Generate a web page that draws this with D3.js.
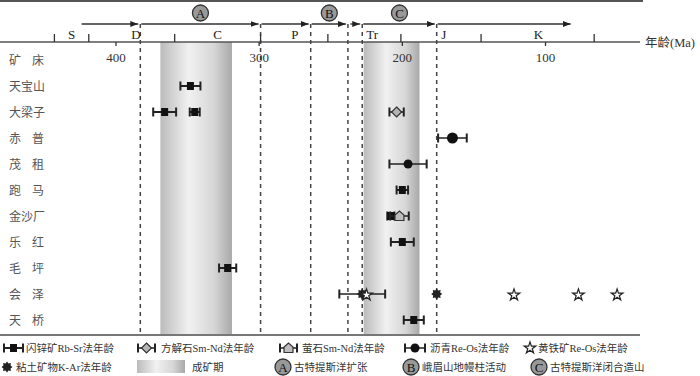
<!DOCTYPE html>
<html>
<head>
    <meta charset="utf-8">
    <title>Age chart</title>
    <script src="https://cdn.jsdelivr.net/npm/d3@7/dist/d3.min.js"></script>
    <style>
        body { margin: 0; background: #fff; }
        text { font-family: "Liberation Serif", "Noto Sans CJK SC", serif; }
    </style>
</head>
<body>
    <svg width="700" height="376" id="mainsvg"></svg>
    <script>
        // ---- data ----
        const deposits = ['天宝山', '大梁子', '赤普', '茂租', '跑马', '金沙厂', '乐红', '毛坪', '会泽', '天桥'];

        // sphalerite Rb-Sr
        const rbSrDeposit = ['天宝山', '大梁子', '大梁子', '跑马', '金沙厂', '乐红', '毛坪', '天桥'];
        const rbSrAge = [348, 366, 345, 200, 208, 200, 322, 192];
        const rbSrErr = [7, 8, 3.5, 4, 2.5, 8, 6, 7];
        // calcite Sm-Nd
        const calciteDeposit = ['大梁子'];
        const calciteAge = [204];
        const calciteErr = [5];
        // fluorite Sm-Nd
        const fluoriteDeposit = ['金沙厂'];
        const fluoriteAge = [202];
        const fluoriteErr = [6.5];
        // bitumen Re-Os
        const bitumenDeposit = ['赤普', '茂租'];
        const bitumenAge = [165, 196];
        const bitumenErr = [10, 13];
        // clay minerals K-Ar
        const clayDeposit = ['会泽', '会泽'];
        const clayAge = [228, 176];
        const clayErr = [16, 0];
        // pyrite Re-Os
        const pyriteDeposit = ['会泽', '会泽', '会泽', '会泽'];
        const pyriteAge = [225, 122, 77, 50];

        // geologic time
        const periodNames = ['S', 'D', 'C', 'P', 'Tr', 'J', 'K'];
        const periodLabelAge = [431, 386, 329, 275, 221, 171, 105];
        const periodBounds = [443, 419, 359, 299, 252, 201, 145, 66];
        const ageTicks = [400, 300, 200, 100];

        // ore-forming periods
        const bandStart = [369, 227];
        const bandEnd = [319, 188];

        // tectonic events
        const eventNames = ['A', 'B', 'C'];
        const eventAge = [341, 251, 202];
        const arrowStart = [424, 383, 299, 264, 237, 228, 176];
        const arrowEnd = [383, 299, 264, 238, 228, 176, 81];
        const dashAges = [383, 299, 264, 238, 228, 176];

        // ---- chart ----
        const svg = d3.select('#mainsvg');
        const x = d3.scaleLinear().domain([481, 34]).range([0, 640]);
        const y = d3.scalePoint().domain(deposits).range([86, 320]);
        const axisY = 42, bottomY = 335, arrowY = 24;

        const defs = svg.append('defs');
        const grad = defs.append('linearGradient').attr('id', 'band');
        [[0, '#bbbbbb'], [0.4, '#f1f1f1'], [0.75, '#d6d6d6'], [1, '#a8a8a8']]
            .forEach(s => grad.append('stop').attr('offset', s[0]).attr('stop-color', s[1]));
        defs.append('marker')
            .attr('id', 'arrow').attr('viewBox', '0 0 8 6')
            .attr('refX', 8).attr('refY', 3)
            .attr('markerWidth', 8).attr('markerHeight', 6)
            .attr('markerUnits', 'userSpaceOnUse').attr('orient', 'auto')
            .append('path').attr('d', 'M0,0L8,3L0,6Z').attr('fill', '#222');

        // mineralization bands
        svg.selectAll('.band')
            .data(bandStart.map((s, i) => [s, bandEnd[i]]))
            .join('rect')
            .attr('class', 'band')
            .attr('x', d => x(d[0]))
            .attr('width', d => x(d[1]) - x(d[0]))
            .attr('y', axisY)
            .attr('height', bottomY - axisY)
            .attr('fill', 'url(#band)');

        // frame lines
        svg.append('line').attr('x1', 0).attr('x2', 643).attr('y1', 1).attr('y2', 1)
            .attr('stroke', '#555').attr('stroke-width', 2);
        svg.append('line').attr('x1', 0).attr('x2', 640).attr('y1', axisY).attr('y2', axisY)
            .attr('stroke', '#555').attr('stroke-width', 1.5);
        svg.append('line').attr('x1', 0).attr('x2', 640).attr('y1', bottomY).attr('y2', bottomY)
            .attr('stroke', '#777').attr('stroke-width', 2);

        // dashed boundaries
        svg.selectAll('.dash')
            .data(dashAges)
            .join('line')
            .attr('class', 'dash')
            .attr('x1', d => x(d)).attr('x2', d => x(d))
            .attr('y1', arrowY).attr('y2', bottomY)
            .attr('stroke', '#444').attr('stroke-width', 1.5)
            .attr('stroke-dasharray', '4,4');

        // event arrows
        svg.selectAll('.arrow')
            .data(arrowStart.map((s, i) => [s, arrowEnd[i]]))
            .join('line')
            .attr('class', 'arrow')
            .attr('x1', d => x(d[0]) + (d[0] === arrowStart[0] ? 0 : 1))
            .attr('x2', d => x(d[1]) - 2)
            .attr('y1', arrowY).attr('y2', arrowY)
            .attr('stroke', '#333').attr('stroke-width', 1.3)
            .attr('marker-end', 'url(#arrow)');

        const eventCircle = (g, cx, cy, label) => {
            g.append('circle').attr('cx', cx).attr('cy', cy).attr('r', 8)
                .attr('fill', '#999').attr('stroke', '#333').attr('stroke-width', 1.3);
            g.append('text').attr('x', cx).attr('y', cy + 4.5)
                .attr('text-anchor', 'middle').attr('font-size', 13).attr('fill', '#111')
                .text(label);
        };
        eventNames.forEach((n, i) => eventCircle(svg, x(eventAge[i]), 13, n));

        // geologic boundary ticks (above) and age ticks (below)
        svg.selectAll('.btick')
            .data(periodBounds)
            .join('line')
            .attr('class', 'btick')
            .attr('x1', d => x(d)).attr('x2', d => x(d))
            .attr('y1', axisY - 8).attr('y2', axisY)
            .attr('stroke', '#333').attr('stroke-width', 1.3);
        svg.selectAll('.atick')
            .data(ageTicks)
            .join('line')
            .attr('class', 'atick')
            .attr('x1', d => x(d)).attr('x2', d => x(d))
            .attr('y1', axisY).attr('y2', axisY + 4)
            .attr('stroke', '#333').attr('stroke-width', 1.3);
        svg.selectAll('.alabel')
            .data(ageTicks)
            .join('text')
            .attr('class', 'alabel')
            .attr('x', d => x(d)).attr('y', 62)
            .attr('text-anchor', 'middle').attr('font-size', 13).attr('fill', '#333')
            .text(d => d);
        svg.selectAll('.plabel')
            .data(periodNames)
            .join('text')
            .attr('class', 'plabel')
            .attr('x', (d, i) => x(periodLabelAge[i])).attr('y', 39)
            .attr('text-anchor', 'middle').attr('font-size', 13).attr('fill', '#222')
            .text(d => d);
        svg.append('text').attr('x', 645).attr('y', 47)
            .attr('font-size', 12.5).attr('fill', '#333').text('年龄(Ma)');

        // row labels
        const rowLabel = (txt, yy) => {
            const t = svg.append('text').attr('x', 9).attr('y', yy + 4.5)
                .attr('font-size', 12).attr('fill', '#555').text(txt);
            if (txt.length === 2) t.attr('textLength', 35).attr('lengthAdjust', 'spacing');
        };
        rowLabel('矿床', 60);
        deposits.forEach(d => rowLabel(d, y(d)));

        // markers
        const gearPath = (R) => {
            const pts = [];
            for (let k = 0; k < 16; k++) {
                const r = k % 2 ? R * 0.7 : R;
                const a = k * Math.PI / 8;
                pts.push([r * Math.sin(a), -r * Math.cos(a)]);
            }
            return 'M' + pts.join('L') + 'Z';
        };
        const drawMarker = (g, type, cx, cy) => {
            if (type === 'rbsr') {
                g.append('rect').attr('x', cx - 3.5).attr('y', cy - 4).attr('width', 7).attr('height', 8)
                    .attr('fill', '#111');
            } else if (type === 'calcite') {
                g.append('path').attr('d', 'M0,-5L5,0L0,5L-5,0Z').attr('transform', `translate(${cx},${cy})`)
                    .attr('fill', '#b5b5b5').attr('stroke', '#333').attr('stroke-width', 1.2);
            } else if (type === 'fluorite') {
                g.append('path').attr('d', 'M-4.5,4.5L4.5,4.5L4.5,-1L0,-5L-4.5,-1Z')
                    .attr('transform', `translate(${cx},${cy})`)
                    .attr('fill', '#bdbdbd').attr('stroke', '#333').attr('stroke-width', 1.2);
            } else if (type === 'bitumen') {
                g.append('circle').attr('cx', cx).attr('cy', cy).attr('r', 4.5).attr('fill', '#111');
            } else if (type === 'clay') {
                g.append('path').attr('d', gearPath(5.5)).attr('transform', `translate(${cx},${cy})`)
                    .attr('fill', '#222');
            } else if (type === 'pyrite') {
                g.append('path').attr('d', d3.symbol(d3.symbolStar, 42)())
                    .attr('transform', `translate(${cx},${cy + 1})`)
                    .attr('fill', '#fff').attr('stroke', '#222').attr('stroke-width', 1.2);
            }
        };
        const errBar = (g, x0, x1, cy, w) => {
            g.append('line').attr('x1', x0).attr('x2', x1).attr('y1', cy).attr('y2', cy)
                .attr('stroke', '#222').attr('stroke-width', w);
            [x0, x1].forEach(xx => g.append('line').attr('x1', xx).attr('x2', xx)
                .attr('y1', cy - 4.5).attr('y2', cy + 4.5)
                .attr('stroke', '#222').attr('stroke-width', 2));
        };
        const plotSeries = (type, deps, ages, errs, w) => {
            const g = svg.append('g');
            deps.forEach((d, i) => {
                if (errs && errs[i] > 0) errBar(g, x(ages[i] + errs[i]), x(ages[i] - errs[i]), y(d), w);
                drawMarker(g, type, x(ages[i]), y(d));
            });
        };
        plotSeries('rbsr', rbSrDeposit, rbSrAge, rbSrErr, 2);
        plotSeries('calcite', calciteDeposit, calciteAge, calciteErr, 1.5);
        plotSeries('fluorite', fluoriteDeposit, fluoriteAge, fluoriteErr, 1.5);
        plotSeries('bitumen', bitumenDeposit, bitumenAge, bitumenErr, 1.5);
        plotSeries('clay', clayDeposit, clayAge, clayErr, 1.5);
        plotSeries('pyrite', pyriteDeposit, pyriteAge, null, 1);
        // bigger bitumen point at 赤普
        svg.append('circle').attr('cx', x(bitumenAge[0])).attr('cy', y(bitumenDeposit[0]))
            .attr('r', 5.5).attr('fill', '#111');

        // legend
        const lg = svg.append('g');
        const ly1 = 348, ly2 = 367;
        const legendText = (tx, ty, s) => lg.append('text').attr('x', tx).attr('y', ty + 4)
            .attr('font-size', 10.5).attr('fill', '#333').text(s);
        const legendErr = (x0, x1, type, cy) => {
            errBar(lg, x0, x1, cy, type === 'rbsr' ? 2 : 1.5);
            drawMarker(lg, type, (x0 + x1) / 2, cy);
        };
        legendErr(4, 23, 'rbsr', ly1); legendText(26, ly1, '闪锌矿Rb-Sr法年龄');
        legendErr(138, 155, 'calcite', ly1); legendText(161, ly1, '方解石Sm-Nd法年龄');
        legendErr(280, 297, 'fluorite', ly1); legendText(302, ly1, '萤石Sm-Nd法年龄');
        legendErr(405, 425, 'bitumen', ly1); legendText(430, ly1, '沥青Re-Os法年龄');
        drawMarker(lg, 'pyrite', 530, ly1 - 1); legendText(538, ly1, '黄铁矿Re-Os法年龄');
        drawMarker(lg, 'clay', 7, ly2); legendText(16, ly2, '粘土矿物K-Ar法年龄');
        lg.append('rect').attr('x', 137).attr('y', ly2 - 7).attr('width', 48).attr('height', 13)
            .attr('fill', 'url(#band)');
        legendText(192, ly2, '成矿期');
        eventCircle(lg, 283, ly2, 'A'); legendText(294, ly2, '古特提斯洋扩张');
        eventCircle(lg, 411, ly2, 'B'); legendText(422, ly2, '峨眉山地幔柱活动');
        eventCircle(lg, 539, ly2, 'C'); legendText(550, ly2, '古特提斯洋闭合造山');
    </script>
</body>
</html>
